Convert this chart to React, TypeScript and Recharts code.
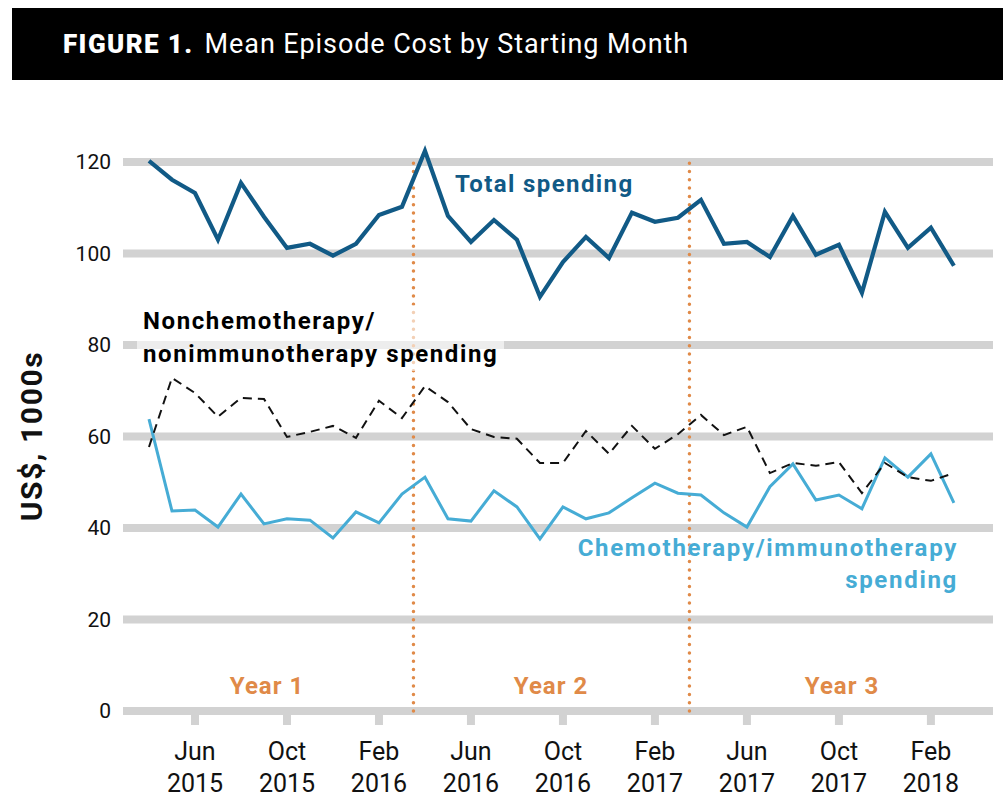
import React from 'react'
import { LineChart, Line, XAxis, YAxis, ReferenceLine } from 'recharts'

const MONTHS = [
  'Apr 2015', 'May 2015', 'Jun 2015', 'Jul 2015', 'Aug 2015', 'Sep 2015', 'Oct 2015', 'Nov 2015', 'Dec 2015', 'Jan 2016', 'Feb 2016', 'Mar 2016',
  'Apr 2016', 'May 2016', 'Jun 2016', 'Jul 2016', 'Aug 2016', 'Sep 2016', 'Oct 2016', 'Nov 2016', 'Dec 2016', 'Jan 2017', 'Feb 2017', 'Mar 2017',
  'Apr 2017', 'May 2017', 'Jun 2017', 'Jul 2017', 'Aug 2017', 'Sep 2017', 'Oct 2017', 'Nov 2017', 'Dec 2017', 'Jan 2018', 'Feb 2018', 'Mar 2018',
]

const TOTAL = [
  120.2, 116.1, 113.2, 103, 115.4, 108, 101.2, 102.1, 99.5, 102.1, 108.4, 110.2,
  122.4, 108.2, 102.5, 107.3, 103, 90.5, 98.1, 103.6, 99, 108.9, 106.9, 107.8,
  111.7, 102.1, 102.5, 99.2, 108.2, 99.7, 101.9, 91.4, 109.1, 101.2, 105.6, 97.3,
]

const NONCHEMO = [
  57.7, 72.8, 69.5, 64.3, 68.4, 68.2, 59.9, 61, 62.3, 59.7, 67.8, 64,
  71, 67.5, 61.6, 59.9, 59.5, 54.2, 54.2, 61.2, 56.2, 62.3, 57.3, 60.5,
  64.7, 60.3, 62.1, 52, 54.2, 53.6, 54.4, 47.6, 54.2, 51.1, 50.3, 52,
]

const CHEMO = [
  63.8, 43.7, 43.9, 40.2, 47.4, 40.9, 42, 41.7, 37.8, 43.5, 41.1, 47.4,
  51.1, 42, 41.5, 48.1, 44.6, 37.6, 44.6, 42, 43.3, 46.6, 49.8, 47.6,
  47.2, 43.3, 40.2, 49, 54, 46.1, 47.2, 44.2, 55.3, 51.1, 56.2, 45.5,
]

const TICK_LABELS = [
  'Jun 2015', 'Oct 2015', 'Feb 2016', 'Jun 2016', 'Oct 2016', 'Feb 2017', 'Jun 2017', 'Oct 2017', 'Feb 2018',
]
const Y_TICKS = [0, 20, 40, 60, 80, 100, 120]

// year boundaries sit halfway between Mar and Apr
const YEAR_BREAKS = [11.5, 23.5]

const data = MONTHS.map((month, i) => ({
  m: i,
  month,
  total: TOTAL[i],
  nonchemo: NONCHEMO[i],
  chemo: CHEMO[i],
}))

const xTicks = TICK_LABELS.map(l => MONTHS.indexOf(l))

const FONT = 'Roboto, "Noto Sans", sans-serif'
const ORANGE = '#e08a48'
const DARK_BLUE = '#115a86'
const LIGHT_BLUE = '#46acd5'
const GRID = '#d2d2d2'

function MonthTick(props: any) {
  const { x, y, payload } = props
  const [mon, yr] = MONTHS[payload.value].split(' ')
  return (
    <g transform={`translate(${x},${y})`}>
      <text x={0} y={33} textAnchor="middle" fontSize={25} fill="#111" fontFamily={FONT}>{mon}</text>
      <text x={0} y={65} textAnchor="middle" fontSize={25} fill="#111" fontFamily={FONT}>{yr}</text>
    </g>
  )
}

function Note({ x, y, color, children, anchor = 'center', size = 24, spacing = 1.4 }: any) {
  const shift = anchor === 'center' ? '-50%' : anchor === 'end' ? '-100%' : '0'
  return (
    <div style={{
      position: 'absolute', left: x, top: y, transform: `translate(${shift}, -50%)`,
      color, fontFamily: FONT, fontWeight: 700, fontSize: size, whiteSpace: 'nowrap', lineHeight: 1,
      letterSpacing: spacing,
    }}>
      {children}
    </div>
  )
}

export default function App() {
  return (
    <div style={{ position: 'absolute', left: 0, top: 0, width: 1008, height: 811, background: '#fff', fontFamily: FONT }}>
      {/* header bar */}
      <div style={{
        position: 'absolute', left: 12, top: 8, width: 991, height: 72, background: '#000',
        color: '#fff', display: 'flex', alignItems: 'center', paddingLeft: 51, boxSizing: 'border-box',
      }}>
        <span style={{ fontWeight: 900, fontSize: 26, letterSpacing: 1.4 }}>FIGURE 1.</span>
        <span style={{ fontSize: 27, marginLeft: 11, letterSpacing: 0.9 }}>Mean Episode Cost by Starting Month</span>
      </div>

      <LineChart width={1008} height={811} data={data} margin={{ top: 139, right: 15, bottom: 0, left: 63 }}>
        {Y_TICKS.map(v => (
          <ReferenceLine key={v} y={v} stroke={GRID} strokeWidth={8} />
        ))}
        <XAxis
          type="number"
          dataKey="m"
          domain={[-1.13, 36.7]}
          ticks={xTicks}
          allowDataOverflow
          axisLine={false}
          tickLine={{ stroke: GRID, strokeWidth: 8 }}
          tickSize={14}
          tickMargin={2}
          height={100}
          interval={0}
          tick={<MonthTick />}
        />
        <YAxis
          domain={[0, 125]}
          ticks={Y_TICKS}
          axisLine={false}
          tickLine={false}
          tickSize={0}
          tickMargin={12}
          width={60}
          tick={{ fontSize: 21, fill: '#111', fontFamily: FONT }}
        />
        {YEAR_BREAKS.map(b => (
          <ReferenceLine
            key={b}
            segment={[{ x: b, y: 0 }, { x: b, y: 120.5 }]}
            stroke={ORANGE}
            strokeWidth={3.5}
            strokeDasharray="0 8.3"
            strokeLinecap="round"
          />
        ))}
        <Line dataKey="chemo" stroke={LIGHT_BLUE} strokeWidth={3} dot={false} isAnimationActive={false} />
        <Line dataKey="nonchemo" stroke="#111" strokeWidth={2} strokeDasharray="9 6" dot={false} isAnimationActive={false} />
        <Line dataKey="total" stroke={DARK_BLUE} strokeWidth={4.2} dot={false} isAnimationActive={false} />
      </LineChart>

      {/* y axis title */}
      <div style={{
        position: 'absolute', left: 31, top: 436, transform: 'translate(-50%, -50%) rotate(-90deg)',
        fontFamily: FONT, fontWeight: 700, fontSize: 30, letterSpacing: 1.6, color: '#111', whiteSpace: 'nowrap',
      }}>
        US$, 1000s
      </div>

      {/* series notes */}
      <Note x={455} y={184} color={DARK_BLUE} anchor="start">Total spending</Note>
      <div style={{
        position: 'absolute', left: 137, top: 305, padding: '0 6px', background: 'rgba(255,255,255,0.6)',
        fontFamily: FONT, fontWeight: 700, fontSize: 24, letterSpacing: 1.6, lineHeight: '33px', color: '#000',
        whiteSpace: 'nowrap',
      }}>
        Nonchemotherapy/<br />nonimmunotherapy spending
      </div>
      <div style={{
        position: 'absolute', right: 1008 - 958, top: 532, textAlign: 'right',
        fontFamily: FONT, fontWeight: 700, fontSize: 24, letterSpacing: 1.7, lineHeight: '32px', color: LIGHT_BLUE,
        whiteSpace: 'nowrap',
      }}>
        Chemotherapy/immunotherapy<br />spending
      </div>

      {/* year labels */}
      <Note x={267} y={686} color={ORANGE} spacing={1}>Year 1</Note>
      <Note x={551} y={686} color={ORANGE} spacing={1}>Year 2</Note>
      <Note x={842} y={686} color={ORANGE} spacing={1}>Year 3</Note>
    </div>
  )
}
